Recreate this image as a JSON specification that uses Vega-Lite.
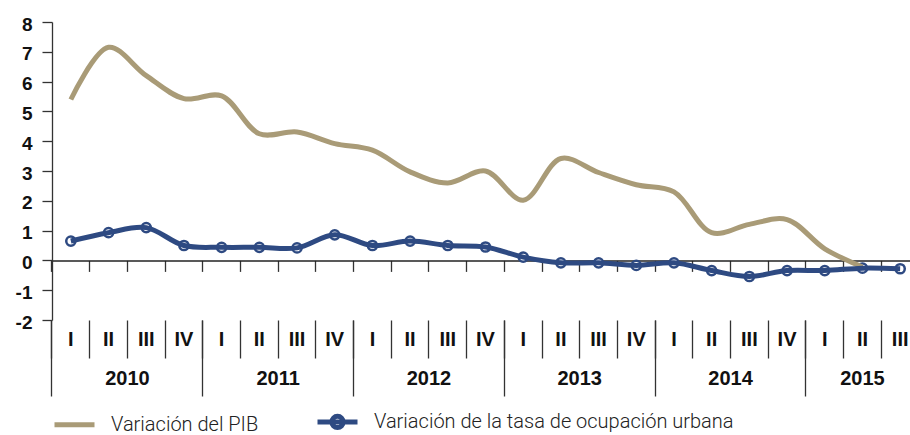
{
  "$schema": "https://vega.github.io/schema/vega-lite/v6.json",
  "autosize": {"type": "none"},
  "width": 858,
  "height": 298,
  "padding": {"left": 52, "top": 22, "right": 0, "bottom": 115},
  "background": "white",
  "config": {"view": {"stroke": null}, "font": "Liberation Sans"},
  "data": {
    "values": [
      {"periodo": "2010-I", "pib": 5.4, "ocupacion": 0.65},
      {"periodo": "2010-II", "pib": 7.15, "ocupacion": 0.93},
      {"periodo": "2010-III", "pib": 6.2, "ocupacion": 1.1},
      {"periodo": "2010-IV", "pib": 5.43, "ocupacion": 0.5},
      {"periodo": "2011-I", "pib": 5.52, "ocupacion": 0.44},
      {"periodo": "2011-II", "pib": 4.25, "ocupacion": 0.44},
      {"periodo": "2011-III", "pib": 4.31, "ocupacion": 0.42},
      {"periodo": "2011-IV", "pib": 3.92, "ocupacion": 0.86},
      {"periodo": "2012-I", "pib": 3.7, "ocupacion": 0.5},
      {"periodo": "2012-II", "pib": 2.97, "ocupacion": 0.65},
      {"periodo": "2012-III", "pib": 2.6, "ocupacion": 0.5},
      {"periodo": "2012-IV", "pib": 3.0, "ocupacion": 0.45},
      {"periodo": "2013-I", "pib": 2.02, "ocupacion": 0.11},
      {"periodo": "2013-II", "pib": 3.42, "ocupacion": -0.08},
      {"periodo": "2013-III", "pib": 2.95, "ocupacion": -0.08},
      {"periodo": "2013-IV", "pib": 2.54, "ocupacion": -0.17},
      {"periodo": "2014-I", "pib": 2.3, "ocupacion": -0.08},
      {"periodo": "2014-II", "pib": 0.93, "ocupacion": -0.34},
      {"periodo": "2014-III", "pib": 1.21, "ocupacion": -0.54},
      {"periodo": "2014-IV", "pib": 1.37, "ocupacion": -0.34},
      {"periodo": "2015-I", "pib": 0.39, "ocupacion": -0.34},
      {"periodo": "2015-II", "pib": -0.22, "ocupacion": -0.26},
      {"periodo": "2015-III", "pib": null, "ocupacion": -0.28}
    ]
  },
  "transform": [{"fold": ["pib", "ocupacion"], "as": ["serie", "valor"]}],
  "encoding": {
    "y": {
      "field": "valor",
      "type": "quantitative",
      "scale": {"domain": [-2, 8], "nice": false, "zero": false},
      "axis": {
        "values": [-2, -1, 0, 1, 2, 3, 4, 5, 6, 7, 8],
        "grid": false,
        "title": null,
        "domainColor": "#333",
        "domainWidth": 1.3,
        "tickColor": "#333",
        "tickWidth": 1.3,
        "tickSize": 10,
        "labelPadding": 10,
        "labelOffset": 2,
        "labelFontSize": 19,
        "labelFontWeight": "bold",
        "labelColor": "#111",
        "labelExpr": "'' + datum.value"
      }
    }
  },
  "layer": [
    {
      "transform": [{"filter": "datum.serie === 'ocupacion'"}],
      "mark": {"type": "point", "filled": true, "fill": "white", "stroke": "#2E4A82", "strokeWidth": 2.5, "size": 85, "opacity": 1},
      "encoding": {
        "x": {
          "field": "periodo",
          "type": "ordinal",
          "scale": {"type": "band", "paddingInner": 0, "paddingOuter": 0, "range": [0, 867]},
          "axis": {
            "orient": "bottom",
            "bandPosition": 0,
            "domain": false,
            "grid": false,
            "tickSize": 76,
            "tickColor": "#333",
            "tickWidth": 1.3,
            "tickOpacity": {"condition": {"test": "indexof(datum.value, '-I') >= 0 && length(datum.value) === 6", "value": 1}, "value": 0},
            "labelExpr": "length(datum.value) === 6 ? split(datum.value, '-')[0] : ''",
            "labelOffset": {"condition": {"test": "datum.value === '2015-I'", "value": 37.7}, "value": 56.55},
            "labelPadding": -18,
            "labelBaseline": "middle",
            "labelAlign": "center",
            "labelAngle": 0,
            "labelFontSize": 20,
            "labelFontWeight": "bold",
            "labelColor": "#111",
            "labelBound": false,
            "labelOverlap": false,
            "labelFlush": false,
            "title": null
          }
        }
      }
    },
    {
      "mark": {"type": "line", "interpolate": "catmull-rom", "strokeWidth": 5},
      "encoding": {
        "x": {
          "field": "periodo",
          "type": "ordinal",
          "scale": {"type": "band", "paddingInner": 0, "paddingOuter": 0, "range": [0, 867]},
          "axis": {
            "orient": "bottom",
            "bandPosition": 0.5,
            "ticks": false,
            "domain": false,
            "grid": false,
            "labelExpr": "split(datum.value, '-')[1]",
            "labelPadding": 19,
            "labelBaseline": "middle",
            "labelAlign": "center",
            "labelAngle": 0,
            "labelFontSize": 20,
            "labelFontWeight": "bold",
            "labelColor": "#111",
            "labelBound": false,
            "labelOverlap": false,
            "labelFlush": false,
            "title": null
          }
        },
        "color": {
          "field": "serie",
          "type": "nominal",
          "scale": {"domain": ["pib", "ocupacion"], "range": ["#A99B77", "#2E4A82"]},
          "legend": {
            "orient": "none",
            "legendX": 0,
            "legendY": 377,
            "direction": "horizontal",
            "title": null,
            "padding": 0,
            "labelExpr": "datum.value === 'pib' ? 'Variación del PIB' : 'Variación de la tasa de ocupación urbana'",
            "symbolType": "stroke",
            "symbolSize": 1600,
            "symbolStrokeWidth": 5,
            "labelFont": "Roboto",
            "labelFontWeight": 300,
            "labelFontSize": 20,
            "labelColor": "#222",
            "labelOffset": 14,
            "labelLimit": 600,
            "columnPadding": 48,
            "encode": {
              "symbols": {
                "update": {
                  "shape": [
                    {"test": "datum.value === 'ocupacion'", "value": "M-1,0H1M-0.28,0A0.28,0.28 0 1,1 0.28,0A0.28,0.28 0 1,1 -0.28,0"},
                    {"value": "stroke"}
                  ]
                }
              }
            }
          }
        }
      }
    },
    {
      "mark": {"type": "point", "opacity": 0},
      "encoding": {
        "x": {
          "field": "periodo",
          "type": "ordinal",
          "scale": {"type": "band", "paddingInner": 0, "paddingOuter": 0, "range": [0, 867]},
          "axis": {
            "orient": "bottom",
            "bandPosition": 0,
            "labels": false,
            "domain": false,
            "grid": false,
            "tickSize": 38,
            "tickColor": "#333",
            "tickWidth": 1.3,
            "title": null
          }
        }
      }
    },
    {
      "mark": {"type": "point", "opacity": 0},
      "encoding": {
        "x": {
          "field": "periodo",
          "type": "ordinal",
          "scale": {"type": "band", "paddingInner": 0, "paddingOuter": 0, "range": [0, 867]},
          "axis": {
            "orient": "bottom",
            "offset": -59.6,
            "bandPosition": 0,
            "labels": false,
            "domain": true,
            "domainColor": "#222",
            "domainWidth": 1.5,
            "grid": false,
            "tickSize": 11,
            "tickColor": "#333",
            "tickWidth": 1.3,
            "title": null
          }
        }
      }
    }
  ],
  "resolve": {"axis": {"x": "independent"}}
}
